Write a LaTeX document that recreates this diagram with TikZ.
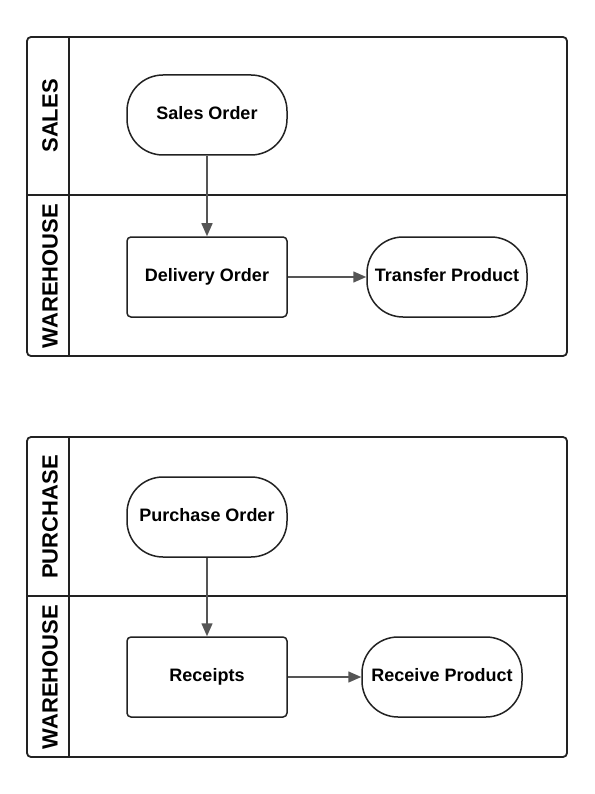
\documentclass[tikz,border=0pt]{standalone}
\usepackage{fontspec}
\setmainfont{Liberation Sans}
\usetikzlibrary{arrows.meta}
\definecolor{edge}{HTML}{222222}
\definecolor{arr}{HTML}{555555}
\begin{document}
\begin{tikzpicture}[x=1pt,y=-1pt,
  poolbox/.style={draw=edge,line width=1.8pt,rounded corners=4pt},
  laneline/.style={draw=edge,line width=1.5pt},
  lanelabel/.style={font=\fontsize{22}{24}\selectfont\bfseries,rotate=90,inner sep=0pt},
  nodetext/.style={font=\fontsize{18}{20}\selectfont\bfseries,inner sep=0pt,text height=13pt,text depth=4pt},
  stadium/.style={nodetext,draw=edge,line width=1.5pt,rounded corners=36pt,minimum width=160pt,minimum height=80pt},
  taskbox/.style={nodetext,draw=edge,line width=1.5pt,rounded corners=4pt,minimum width=160pt,minimum height=80pt},
  flow/.style={draw=arr,line width=1.5pt,-{Triangle[length=13pt,width=11pt]}}
]
\useasboundingbox (0,0) rectangle (594,794);
% pool 1
\draw[poolbox] (27,37) rectangle (567,356);
\draw[laneline] (69,37) -- (69,356);
\draw[laneline] (27,195) -- (567,195);
\node[lanelabel] (l1) at (50,116) {SALES};
\node[lanelabel] (l2) at (50,276) {WAREHOUSE};
\node[stadium] (so) at (207,115) {Sales Order};
\node[taskbox] (do) at (207,277) {Delivery Order};
\node[stadium] (tp) at (447,277) {Transfer Product};
\draw[flow] (so) -- (do);
\draw[flow] (do) -- (tp);
% pool 2
\draw[poolbox] (27,437) rectangle (567,757);
\draw[laneline] (69,437) -- (69,757);
\draw[laneline] (27,596) -- (567,596);
\node[lanelabel] (l3) at (50,517) {PURCHASE};
\node[lanelabel] (l4) at (50,677) {WAREHOUSE};
\node[stadium] (po) at (207,517) {Purchase Order};
\node[taskbox] (re) at (207,677) {Receipts};
\node[stadium] (rp) at (442,677) {Receive Product};
\draw[flow] (po) -- (re);
\draw[flow] (re) -- (rp);
\end{tikzpicture}
\end{document}
